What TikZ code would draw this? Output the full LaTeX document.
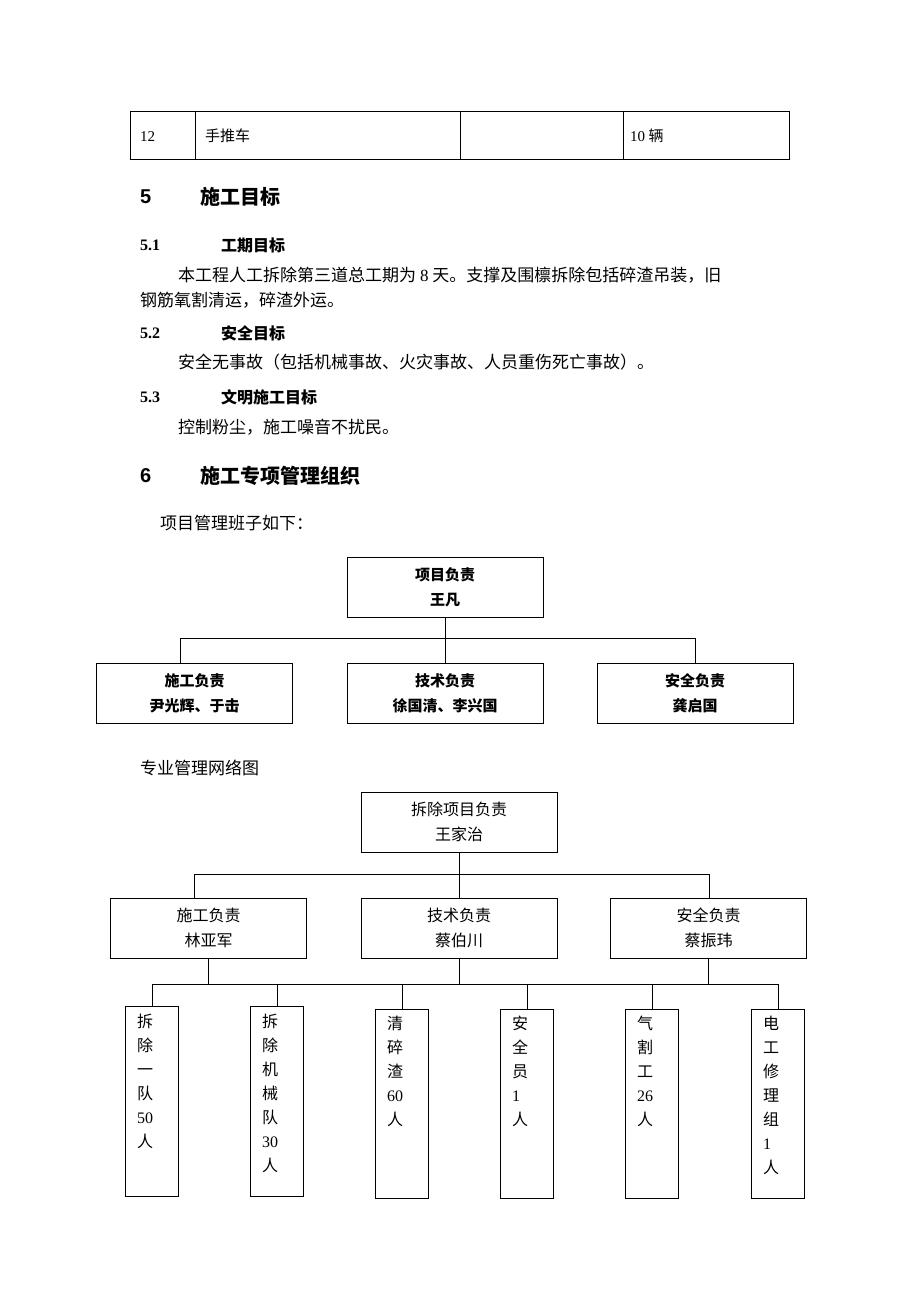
\documentclass[tikz,border=0pt]{standalone}
\usepackage{fontspec}
\setmainfont{Noto Sans CJK SC}
\newfontfamily\lat{Liberation Serif}
\newfontfamily\hd{Liberation Sans}
\begin{document}
\begin{tikzpicture}[x=1pt,y=-1pt,
  box/.style={draw,line width=0.8pt,minimum width=196pt,minimum height=60pt,align=center,inner sep=0pt},
  vbox/.style={draw,line width=0.8pt,anchor=north west,minimum width=53pt,inner sep=0pt},
  ln/.style={line width=0.8pt},
  txt/.style={anchor=west,inner sep=0pt,font=\fontsize{15}{18}\selectfont},
  body/.style={anchor=west,inner sep=0pt,font=\fontsize{17}{20}\selectfont},
  vt/.style={anchor=north west,inner sep=0pt,align=left,font=\fontsize{16}{24}\selectfont},
  h1/.style={anchor=west,inner sep=0pt,font=\fontsize{20}{24}\selectfont\bfseries},
  h2/.style={anchor=west,inner sep=0pt,font=\fontsize{16}{20}\selectfont\bfseries}]
\useasboundingbox[fill=white] (0,0) rectangle (920,1302);
% table
\draw[ln] (130,111) rectangle (789,159);
\draw[ln] (195,111) -- (195,159) (460,111) -- (460,159) (623,111) -- (623,159);
\node[txt] (t1) at (140,137) {\lat 12};
\node[txt] (t2) at (205,136) {手推车};
\node[txt] (t3) at (630,136) {{\lat 10} 辆};
% headings
\node[h1] (h5) at (140,197) {\hd 5};
\node[h1] (h5t) at (200,197) {施工目标};
\node[h2] (h51) at (140,245) {\lat\bfseries 5.1};
\node[h2] (h51t) at (221,245) {工期目标};
\node[body] (p1) at (178,275) {本工程人工拆除第三道总工期为 {\lat 8} 天。支撑及围檩拆除包括碎渣吊装，旧};
\node[body] (p2) at (140,300) {钢筋氧割清运，碎渣外运。};
\node[h2] (h52) at (140,333) {\lat\bfseries 5.2};
\node[h2] (h52t) at (221,333) {安全目标};
\node[body] (p3) at (178,362) {安全无事故（包括机械事故、火灾事故、人员重伤死亡事故）。};
\node[h2] (h53) at (140,397) {\lat\bfseries 5.3};
\node[h2] (h53t) at (221,397) {文明施工目标};
\node[body] (p4) at (178,427) {控制粉尘，施工噪音不扰民。};
\node[h1] (h6) at (140,476) {\hd 6};
\node[h1] (h6t) at (200,476) {施工专项管理组织};
\node[body] (p5) at (160,523) {项目管理班子如下：};
% org 1
\begin{scope}[every node/.append style={font=\fontsize{15}{25}\selectfont\bfseries}]
\node[box] (a0) at (445,587) {项目负责\\王凡};
\node[box] (a1) at (194.5,693) {施工负责\\尹光辉、于击};
\node[box] (a2) at (445,693) {技术负责\\徐国清、李兴国};
\node[box] (a3) at (695,693) {安全负责\\龚启国};
\end{scope}
\coordinate (b1) at (180,638);
\coordinate (b2) at (695,638);
\draw[ln] (a0.south) -- (a0.south |- b1);
\draw[ln] (b1) -- (b2);
\draw[ln] (b1) -- (b1 |- a1.north);
\draw[ln] (a0.south |- b1) -- (a2.north);
\draw[ln] (b2) -- (a3.north);
\node[body] (p6) at (140,768) {专业管理网络图};
% org 2
\begin{scope}[every node/.append style={font=\fontsize{16}{25}\selectfont}]
\node[box] (c0) at (459,822) {拆除项目负责\\王家治};
\node[box] (c1) at (208.5,928) {施工负责\\林亚军};
\node[box] (c2) at (459,928) {技术负责\\蔡伯川};
\node[box] (c3) at (708.5,928) {安全负责\\蔡振玮};
\end{scope}
\coordinate (d1) at (194,874);
\coordinate (d2) at (709,874);
\draw[ln] (c0.south) -- (c0.south |- d1);
\draw[ln] (d1) -- (d2);
\draw[ln] (d1) -- (d1 |- c1.north);
\draw[ln] (c0.south |- d1) -- (c2.north);
\draw[ln] (d2) -- (d2 |- c3.north);
\draw[ln] (c1.south) -- (c1.south |- 0,984);
\draw[ln] (c2.south) -- (c2.south |- 0,984);
\draw[ln] (c3.south) -- (c3.south |- 0,984);
\coordinate (e1) at (153,984);
\coordinate (e2) at (778,984);
\draw[ln] (e1) -- (e2);
\node[vbox,minimum height=190pt] (v1) at (125,1006) {};
\node[vbox,minimum height=190pt] (v2) at (250,1006) {};
\node[vbox,minimum height=189pt] (v3) at (375,1009) {};
\node[vbox,minimum height=189pt] (v4) at (500,1009) {};
\node[vbox,minimum height=189pt] (v5) at (625,1009) {};
\node[vbox,minimum height=189pt] (v6) at (751,1009) {};
\foreach \v in {1,...,6}{\draw[ln] (v\v.north |- e1) -- (v\v.north);}
\node[vt] at (137,1014) {拆\\除\\一\\队\\{\lat 50}\\人};
\node[vt] at (262,1014) {拆\\除\\机\\械\\队\\{\lat 30}\\人};
\node[vt] at (387,1016) {清\\碎\\渣\\{\lat 60}\\人};
\node[vt] at (512,1016) {安\\全\\员\\{\lat 1}\\人};
\node[vt] at (637,1016) {气\\割\\工\\{\lat 26}\\人};
\node[vt] at (763,1016) {电\\工\\修\\理\\组\\{\lat 1}\\人};
\end{tikzpicture}
\end{document}
